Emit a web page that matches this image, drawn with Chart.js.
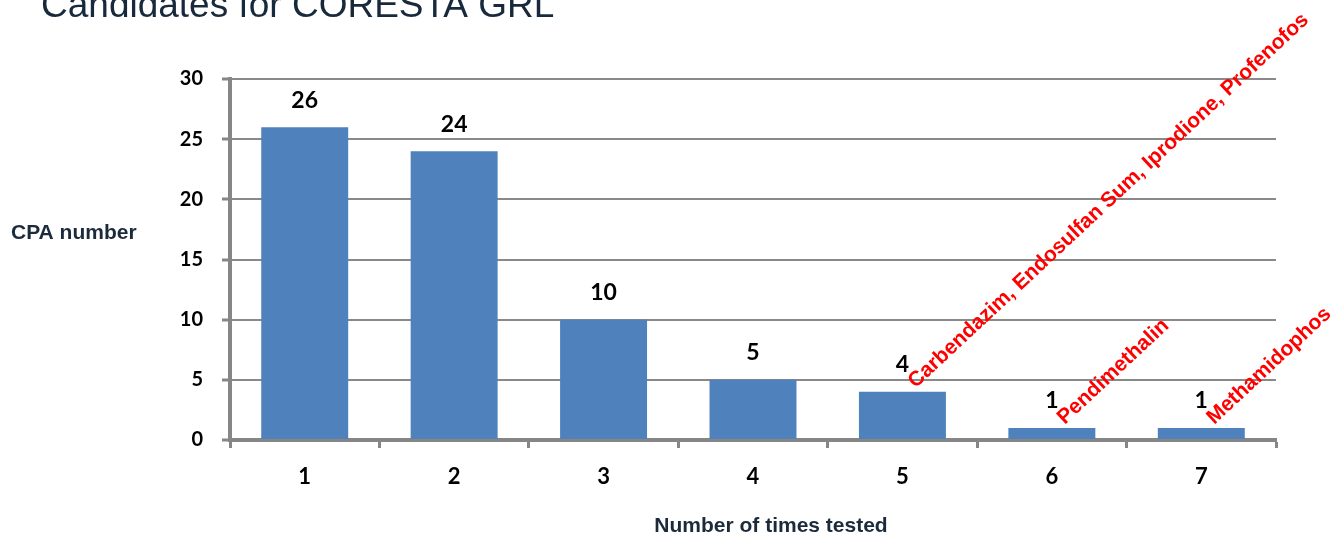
<!DOCTYPE html>
<html>
<head>
<meta charset="utf-8">
<script src="https://cdn.jsdelivr.net/npm/chart.js@4.4.0/dist/chart.umd.min.js"></script>
<style>
  html, body { margin: 0; padding: 0; background: #ffffff; overflow: hidden; }
  #wrap { position: relative; width: 1334px; height: 534px; }
  canvas { display: block; }
</style>
</head>
<body>
<div id="wrap"><canvas id="c" width="1334" height="534"></canvas></div>
<script>
// ---- data ----
const slideTitle = 'Candidates for CORESTA GRL';
const categories = ['1', '2', '3', '4', '5', '6', '7'];
const cpaCounts = [26, 24, 10, 5, 4, 1, 1];
const compoundNotes = ['', '', '', '', 'Carbendazim, Endosulfan Sum, Iprodione, Profenofos', 'Pendimethalin', 'Methamidophos'];
const yTitle = 'CPA number';
const xTitle = 'Number of times tested';
const yMin = 0, yMax = 30, yStep = 5;

const overlay = {
  id: 'overlay',
  afterDatasetsDraw(chart) {
    const ctx = chart.ctx;
    const meta = chart.getDatasetMeta(0);
    const area = chart.chartArea;
    ctx.save();
    // value labels
    ctx.font = 'bold 23px Lato';
    ctx.fillStyle = '#000000';
    ctx.textAlign = 'center';
    ctx.textBaseline = 'middle';
    meta.data.forEach((bar, i) => {
      ctx.fillText(String(cpaCounts[i]), bar.x, bar.y - 27);
    });
    // rotated compound names
    ctx.font = 'bold 21px "Liberation Sans", Arial, sans-serif';
    ctx.fillStyle = '#FF0000';
    ctx.textAlign = 'left';
    ctx.textBaseline = 'alphabetic';
    meta.data.forEach((bar, i) => {
      if (!compoundNotes[i]) return;
      ctx.save();
      ctx.translate(bar.x + 13, bar.y - 3);
      ctx.rotate(-43 * Math.PI / 180);
      ctx.fillText(compoundNotes[i], 0, 0);
      ctx.restore();
    });
    // axis titles (horizontal)
    ctx.font = 'bold 21px "Liberation Sans", Arial, sans-serif';
    ctx.fillStyle = '#1c2b3c';
    ctx.textAlign = 'left';
    ctx.textBaseline = 'middle';
    ctx.fillText(yTitle, 11, 233);
    ctx.textAlign = 'center';
    ctx.fillText(xTitle, (area.left + area.right) / 2 + 18, 526);
    // slide title
    ctx.font = '37px "Liberation Sans", Arial, sans-serif';
    ctx.fillStyle = '#17293b';
    ctx.textAlign = 'left';
    ctx.textBaseline = 'alphabetic';
    ctx.fillText(slideTitle, 41, 17);
    ctx.restore();
  }
};

new Chart(document.getElementById('c'), {
  type: 'bar',
  data: {
    labels: categories,
    datasets: [{
      data: cpaCounts,
      backgroundColor: '#4F81BD',
      borderWidth: 0,
      barPercentage: 0.582,
      categoryPercentage: 1.0
    }]
  },
  options: {
    responsive: false,
    devicePixelRatio: 1,
    animation: false,
    layout: { padding: { left: 0, top: 79, right: 58, bottom: 0 } },
    plugins: { legend: { display: false }, tooltip: { enabled: false } },
    scales: {
      x: {
        afterFit(scale) { scale.height = 94; },
        grid: {
          display: true,
          drawOnChartArea: false,
          drawTicks: true,
          tickLength: 8,
          tickColor: '#868686',
          tickWidth: 3,
          offset: true
        },
        border: { display: true, color: '#868686', width: 4 },
        ticks: {
          color: '#000000',
          font: { family: 'Lato', weight: 'bold', size: 22 },
          padding: 16
        }
      },
      y: {
        min: yMin,
        max: yMax,
        afterFit(scale) { scale.width = 230; },
        grid: {
          color: '#898989',
          lineWidth: 2,
          drawTicks: true,
          tickLength: 8,
          tickColor: '#868686',
          tickWidth: 3
        },
        border: { display: true, color: '#868686', width: 4 },
        ticks: {
          stepSize: yStep,
          color: '#000000',
          font: { family: 'Lato', weight: 'bold', size: 20 },
          padding: 19
        }
      }
    }
  },
  plugins: [overlay]
});
</script>
</body>
</html>
